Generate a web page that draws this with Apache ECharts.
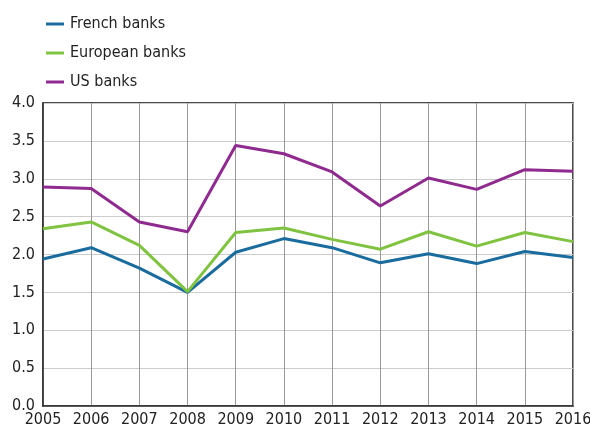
<!DOCTYPE html>
<html>
<head>
<meta charset="utf-8">
<script src="https://cdn.jsdelivr.net/npm/echarts@6/dist/echarts.min.js"></script>
<style>html,body{margin:0;padding:0;background:#fff}#c{width:590px;height:432px}</style>
</head>
<body>
<div id="c"></div>
<script>
const years = ['2005','2006','2007','2008','2009','2010','2011','2012','2013','2014','2015','2016'];
const frenchBanks = [1.94, 2.09, 1.82, 1.50, 2.03, 2.21, 2.09, 1.89, 2.01, 1.88, 2.04, 1.96];
const europeanBanks = [2.34, 2.43, 2.12, 1.51, 2.29, 2.35, 2.20, 2.07, 2.30, 2.11, 2.29, 2.17];
const usBanks = [2.89, 2.87, 2.43, 2.30, 3.44, 3.33, 3.09, 2.64, 3.01, 2.86, 3.12, 3.10];
const yTicks = { min: 0, max: 4, step: 0.5 };

const FONT = '"DejaVu Sans Condensed", "Liberation Sans Narrow", "Roboto", sans-serif';
const chart = echarts.init(document.getElementById('c'), null, { renderer: 'canvas' });
const mk = (name, data, color) => ({
  name, type: 'line', data, symbol: 'none', smooth: false,
  lineStyle: { color, width: 3 }, itemStyle: { color }
});
chart.setOption({
  animation: false,
  legend: {
    orient: 'vertical', left: 41, top: 11, itemWidth: 18, itemHeight: 3, itemGap: 13,
    icon: 'rect',
    textStyle: { fontFamily: FONT, fontSize: 16, color: '#222', padding: [0, 0, 0, 1] },
    data: ['French banks', 'European banks', 'US banks']
  },
  grid: { left: 43, right: 17, top: 103, bottom: 26, show: true, borderColor: '#111', borderWidth: 1.5, containLabel: false, outerBoundsMode: 'none' },
  xAxis: {
    type: 'category', data: years, boundaryGap: false,
    axisLine: { lineStyle: { color: '#333', width: 1.5 } },
    axisTick: { show: false },
    axisLabel: { fontFamily: FONT, fontSize: 16, color: '#222', margin: 6, interval: 0 },
    splitLine: { show: true, interval: 0, lineStyle: { color: '#999', width: 1 } }
  },
  yAxis: {
    type: 'value', min: yTicks.min, max: yTicks.max, interval: yTicks.step,
    axisLine: { show: true, lineStyle: { color: '#333', width: 1.5 } },
    axisTick: { show: false },
    axisLabel: { fontFamily: FONT, fontSize: 16, color: '#222', margin: 8, formatter: v => v.toFixed(1) },
    splitLine: { show: true, lineStyle: { color: '#ccc', width: 1 } }
  },
  series: [
    mk('French banks', frenchBanks, '#1a6c9e'),
    mk('European banks', europeanBanks, '#80c341'),
    mk('US banks', usBanks, '#8f2a8f')
  ]
});
</script>
</body>
</html>
